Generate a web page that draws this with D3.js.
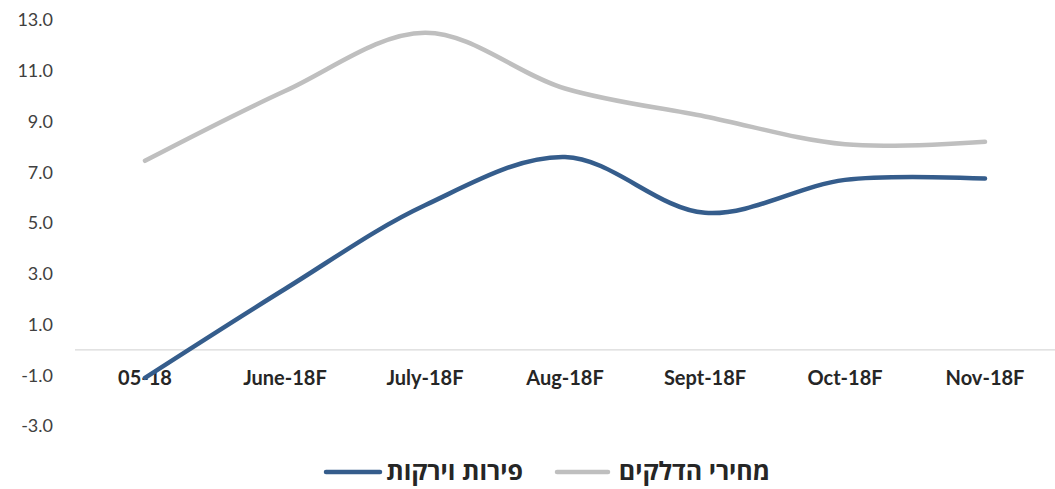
<!DOCTYPE html>
<html><head><meta charset="utf-8">
<script src="https://cdn.jsdelivr.net/npm/d3@7"></script>
<style>body{margin:0;background:#fff}svg{display:block}</style>
</head><body>
<script>
const categories = ["05-18","June-18F","July-18F","Aug-18F","Sept-18F","Oct-18F","Nov-18F"];
const fuelPrices = [7.45, 10.2, 12.5, 10.3, 9.2, 8.1, 8.2];
const fruitVeg = [-1.1, 2.4, 5.7, 7.6, 5.4, 6.7, 6.75];
const yTicks = [-3, -1, 1, 3, 5, 7, 9, 11, 13];
const seriesNames = ["מחירי הדלקים", "פירות וירקות"];
const colors = ["#BFBFBF", "#355D8C"];

const W = 1055, H = 489;
const svg = d3.select("body").append("svg").attr("width", W).attr("height", H);
const x = d3.scaleBand().domain(categories).range([75, 1055]);
const y = d3.scaleLinear().domain([-3, 13]).range([426, 20]);

// y tick labels
const yAxis = d3.axisLeft(y).tickValues(yTicks).tickFormat(d => d.toFixed(1)).tickSize(0).tickPadding(0);
const gy = svg.append("g").attr("transform", "translate(53,0)").call(yAxis);
gy.select(".domain").remove();
gy.selectAll("text").attr("font-family", "Lato, 'Open Sans', sans-serif").attr("font-size", 18).attr("fill", "#404040");

// zero line
svg.append("line").attr("x1", 75).attr("x2", 1055).attr("y1", y(0)).attr("y2", y(0))
  .attr("stroke", "#D9D9D9").attr("stroke-width", 1.3);

// x labels
const xAxis = d3.axisBottom(x).tickSize(0).tickPadding(0);
const gx = svg.append("g").attr("transform", "translate(0,378)").call(xAxis);
gx.select(".domain").remove();
gx.selectAll("text").attr("font-family", "Lato, 'Open Sans', sans-serif").attr("font-weight", "bold")
  .attr("font-size", 20).attr("fill", "#262626").attr("dy", "0.35em");

const line = d3.line().x((d, i) => x(categories[i]) + x.bandwidth() / 2).y(d => y(d)).curve(d3.curveCatmullRom.alpha(0.5));
[fuelPrices, fruitVeg].forEach((s, k) => {
  svg.append("path").datum(s).attr("d", line).attr("fill", "none")
    .attr("stroke", colors[k]).attr("stroke-width", 4.5).attr("stroke-linecap", "round");
});

// legend
const legend = [
  {name: seriesNames[0], color: colors[0], textRight: 770, lx1: 557, lx2: 608},
  {name: seriesNames[1], color: colors[1], textRight: 523, lx1: 326, lx2: 380}
];
legend.forEach(l => {
  svg.append("line").attr("x1", l.lx1).attr("x2", l.lx2).attr("y1", 472).attr("y2", 472)
    .attr("stroke", l.color).attr("stroke-width", 4.5).attr("stroke-linecap", "round");
  svg.append("text").attr("x", l.textRight).attr("y", 471).attr("dy", "0.35em")
    .attr("text-anchor", "end").attr("direction", "ltr")
    .attr("font-family", "'Open Sans', 'Noto Sans', sans-serif").attr("font-weight", "bold")
    .attr("font-size", 25).attr("fill", "#262626").text(l.name);
});
</script>
</body></html>
